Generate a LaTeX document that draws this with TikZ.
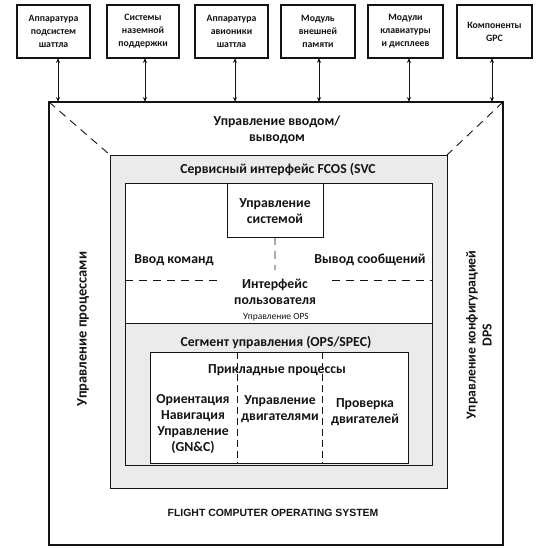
\documentclass[tikz,border=0pt]{standalone}
\usepackage{fontspec}
\setmainfont{Carlito}
\newfontfamily\helv{Liberation Sans}
\usetikzlibrary{arrows.meta}
\definecolor{panel}{gray}{0.92}
\definecolor{inkk}{gray}{0.08}
\begin{document}
\begin{tikzpicture}[x=1bp,y=-1bp,
  every node/.style={inner sep=0pt, outer sep=0pt, text=inkk},
  topbox/.style={draw=inkk, line width=1.8pt, fill=white, anchor=north west, minimum height=53bp, align=center, font=\bfseries\fontsize{9.8}{13}\selectfont},
  frame/.style={draw=inkk, anchor=north west, line width=0.9pt},
  lab/.style={align=center, font=\bfseries\fontsize{13.8}{16}\selectfont},
  biarrow/.style={{Stealth[length=5pt,width=4pt]}-{Stealth[length=5pt,width=4pt]}, draw=inkk, line width=0.9pt},
  dsh/.style={draw=inkk, line width=0.9pt, dash pattern=on 8pt off 6pt}
]
\useasboundingbox (0,0) rectangle (550,549);
\fill[white] (0,0) rectangle (550,549);

% outer system frame
\node[frame, line width=1.8pt, minimum width=454bp, minimum height=443bp] (os) at (49,102) {};
% SVC gray panel
\node[frame, fill=panel, minimum width=337bp, minimum height=333bp] (svc) at (110,155) {};
% user interface white block
\node[frame, fill=white, minimum width=307bp, minimum height=140bp] (ui) at (125,183) {};
% system control box
\node[frame, fill=white, minimum width=96bp, minimum height=54bp] (sys) at (227,183) {};
% OPS/SPEC gray block
\node[frame, fill=panel, minimum width=307bp, minimum height=142bp] (ops) at (125,323) {};
% applications white block
\node[frame, fill=white, minimum width=258bp, minimum height=111bp] (app) at (150,352) {};

% top boxes
\node[topbox, minimum width=73bp] (b1) at (17,5) {Аппаратура\\подсистем\\шаттла};
\node[topbox, minimum width=72bp] (b2) at (107,5) {Системы\\наземной\\поддержки};
\node[topbox, minimum width=73bp] (b3) at (195,5) {Аппаратура\\авионики\\шаттла};
\node[topbox, minimum width=74bp] (b4) at (281,5) {Модуль\\внешней\\памяти};
\node[topbox, minimum width=75bp] (b5) at (368,5) {Модули\\клавиатуры\\и дисплеев};
\node[topbox, minimum width=75bp] (b6) at (457,5) {Компоненты\\GPC};

% arrows to the frame
\foreach \b/\x in {b1/58,b2/145,b3/235,b4/319,b5/409,b6/492}{
  \coordinate (\b t) at (\x,58);
  \coordinate (\b o) at (\x,102);
  \draw[biarrow] (\b t) -- (\b o);
}

% dashed perspective lines
\draw[dsh] (os.north west) -- (svc.north west);
\draw[dsh] (os.north east) -- (svc.north east);

% dashed separators in UI block
\coordinate (sysd) at (275,270);
\draw[dsh] (sys.south) -- (sysd);
\coordinate (hl1) at (220,280);
\coordinate (hr1) at (332,280);
\draw[dsh] (ui.west |- hl1) -- (hl1);
\draw[dsh] (hr1) -- (ui.east |- hr1);

% dashed separators in application block
\coordinate (a1) at (237,352);
\coordinate (a2) at (322,352);
\draw[dsh, dash pattern=on 7pt off 4pt] (a1) -- (a1 |- app.south);
\draw[dsh, dash pattern=on 7pt off 4pt] (a2) -- (a2 |- app.south);

% labels
\node[lab] (tio) at (277,130) {Управление вводом/\\выводом};
\node[lab] (tsvc) at (278,170) {Сервисный интерфейс FCOS (SVC};
\node[lab] (tsys) at (275,211) {Управление\\системой};
\node[lab] (tcmd) at (174,260) {Ввод команд};
\node[lab] (tmsg) at (370,260) {Вывод сообщений};
\node[lab] (tui) at (275,292) {Интерфейс\\пользователя};
\node[font=\fontsize{9.5}{11}\selectfont] (tops) at (276,317) {Управление OPS};
\node[lab] (tseg) at (276,342) {Сегмент управления (OPS/SPEC)};
\node[lab] (tapp) at (277,370) {Прикладные процессы};
\node[lab] (tgnc) at (193,424) {Ориентация\\Навигация\\Управление\\(GN\&C)};
\node[lab] (teng) at (280,409) {Управление\\двигателями};
\node[lab] (tchk) at (365,412) {Проверка\\двигателей};
\node[lab, font=\bfseries\fontsize{14.5}{16}\selectfont, rotate=90] (tproc) at (83,329) {Управление процессами};
\node[lab, rotate=90] (tdps) at (479,335) {Управление конфигурацией\\DPS};
\node[font=\helv\bfseries\fontsize{10.5}{12}\selectfont] (tfcos) at (273,513) {FLIGHT COMPUTER OPERATING SYSTEM};
\end{tikzpicture}
\end{document}
